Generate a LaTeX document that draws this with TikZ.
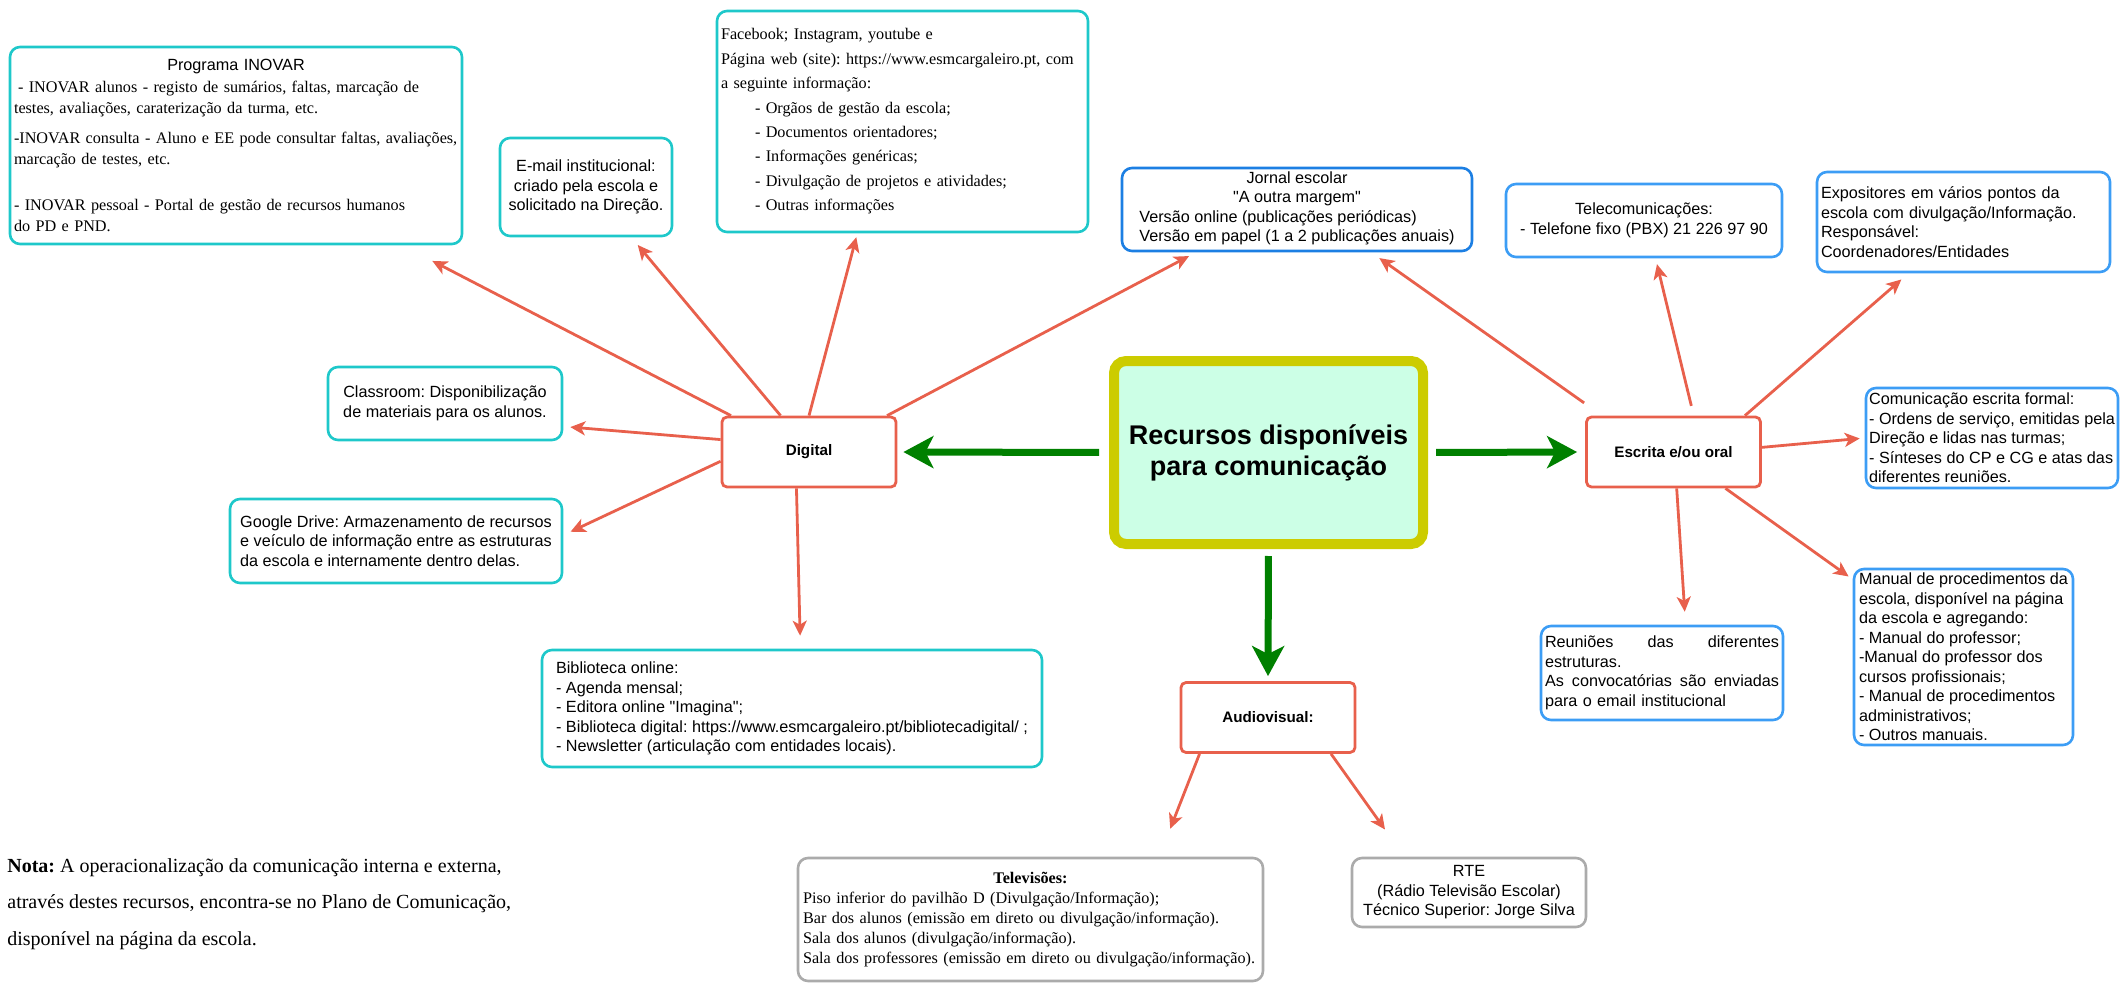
\documentclass[tikz,border=0pt]{standalone}
\usepackage{fontspec}
\setmainfont{Liberation Serif}
\setsansfont{Liberation Sans}[Ligatures=TeXOff]
\usepackage{tikz}
\usetikzlibrary{arrows.meta}
\definecolor{boxcyan}{HTML}{1EC8CA}
\definecolor{boxblue}{HTML}{3C9DF5}
\definecolor{jornalblue}{HTML}{1C7FE3}
\definecolor{nodered}{HTML}{E8604C}
\definecolor{boxgray}{HTML}{ABABAB}
\definecolor{mainyellow}{HTML}{CCCC00}
\definecolor{mainfill}{HTML}{CCFFE6}
\definecolor{arrowgreen}{HTML}{008000}
\newcommand{\boxfont}{\sffamily\fontsize{8.1}{9.75}\selectfont}
\frenchspacing

\begin{document}
\begin{tikzpicture}[x=0.5pt, y=-0.5pt,
  cbox/.style={rectangle, draw=#1, line width=1.3pt, rounded corners=5pt,
               fill=white, inner sep=1.5pt, font=\boxfont},
  cbox/.default=boxcyan,
  hub/.style={rectangle, draw=nodered, line width=1.4pt, rounded corners=2.5pt,
              fill=white, minimum width=87pt, minimum height=35pt,
              font=\sffamily\bfseries\fontsize{7.6}{9}\selectfont},
  spoke/.style={draw=nodered, line width=1.4pt,
                -{Stealth[length=7.5pt,width=7pt,inset=2pt]}},
  bigarrow/.style={draw=arrowgreen, line width=3.5pt,
                   -{Stealth[length=15pt,width=16pt,inset=4pt]}},
]
  \useasboundingbox (0,0) rectangle (2125,984);

  % Centre
  \node[draw=mainyellow, line width=5pt, fill=mainfill, rounded corners=6pt,
        minimum width=154.5pt, minimum height=91.5pt, align=center,
        font=\sffamily\bfseries\fontsize{13.5}{15.6}\selectfont]
        (main) at (1268.5,452.5) {Recursos disponíveis\\para comunicação};

  \node[hub] (dig) at (809,452) {Digital};
  \node[hub] (esc) at (1673.5,452) {Escrita e/ou oral};
  \node[hub] (audio) at (1268,717.5) {Audiovisual:};

  % Digital
  \node[cbox, text width=222pt, inner xsep=2pt, minimum height=98.5pt, align=left,
        font=\rmfamily\fontsize{8.1}{10.75}\selectfont] (ino) at (236,145.5) {
    \hfill{\boxfont Programa INOVAR}\hfill\mbox{}\\
    \hspace*{2pt}- INOVAR alunos - registo de sumários, faltas, marcação de\\
    testes, avaliações, caraterização da turma, etc.\\[4pt]
    \mbox{-INOVAR consulta - Aluno e EE pode consultar faltas, avaliações,}\\
    marcação de testes, etc.\\[12pt]
    - INOVAR pessoal - Portal de gestão de recursos humanos\\
    do PD e PND.
  };
  \node[cbox, align=center, minimum width=86pt, minimum height=49pt]
        (email) at (586,187) {E-mail institucional:\\criado pela escola e\\solicitado na Direção.};
  \node[cbox, text width=181.5pt, inner xsep=2pt, minimum height=110.5pt, align=left,
        font=\rmfamily\fontsize{8.1}{12.2}\selectfont] (fb) at (902.5,121.5) {
    Facebook; Instagram, youtube e\\
    Página web (site): https://www.esmcargaleiro.pt, com\\
    a seguinte informação:\\
    \hspace*{17pt}- Orgãos de gestão da escola;\\
    \hspace*{17pt}- Documentos orientadores;\\
    \hspace*{17pt}- Informações genéricas;\\
    \hspace*{17pt}- Divulgação de projetos e atividades;\\
    \hspace*{17pt}- Outras informações
  };
  \node[cbox=jornalblue, align=center, minimum width=175pt, minimum height=41.5pt]
        (jornal) at (1297,209.5) {Jornal escolar\\"A outra margem"\\
    \begin{tabular}[t]{@{}l@{}}
      Versão online (publicações periódicas)\\
      Versão em papel (1 a 2 publicações anuais)
    \end{tabular}};
  \node[cbox, align=center, minimum width=117pt, minimum height=36.5pt]
        (class) at (445,403.5) {Classroom: Disponibilização\\de materiais para os alunos.};
  \node[cbox, align=left, minimum width=166pt, minimum height=42pt]
        (gdrive) at (396,541) {Google Drive: Armazenamento de recursos\\
    e veículo de informação entre as estruturas\\
    da escola e internamente dentro delas.};
  \node[cbox, align=left, minimum width=250pt, minimum height=58.5pt]
        (biblio) at (792,708.5) {Biblioteca online:\\
    - Agenda mensal;\\
    - Editora online "Imagina";\\
    - Biblioteca digital: https://www.esmcargaleiro.pt/bibliotecadigital/ ;\\
    - Newsletter (articulação com entidades locais).};

  % Escrita e/ou oral
  \node[cbox=boxblue, align=center, minimum width=138pt, minimum height=36.5pt]
        (tel) at (1644,220.5) {Telecomunicações:\\- Telefone fixo (PBX) 21 226 97 90};
  \node[cbox=boxblue, align=left, text width=142.5pt, inner xsep=2pt, minimum height=50pt]
        (expo) at (1963.5,222) {Expositores em vários pontos da\\
    escola com divulgação/Informação.\\
    Responsável:\\
    Coordenadores/Entidades};
  \node[cbox=boxblue, align=left, minimum width=126pt, minimum height=50pt]
        (comm) at (1992,438) {Comunicação escrita formal:\\
    - Ordens de serviço, emitidas pela\\
    Direção e lidas nas turmas;\\
    - Sínteses do CP e CG e atas das\\
    diferentes reuniões.};
  \node[cbox=boxblue, align=left, text width=117pt, inner xsep=2pt, minimum height=47pt]
        (reun) at (1662,673) {Reuniões\hfill das\hfill diferentes\\
    estruturas.\\
    As\hfill convocatórias\hfill são\hfill enviadas\\
    para o email institucional};
  \node[cbox=boxblue, align=left, inner sep=1pt, minimum width=109.5pt, minimum height=88pt]
        (manual) at (1963.5,657) {Manual de procedimentos da\\
    escola, disponível na página\\
    da escola e agregando:\\
    - Manual do professor;\\
    -Manual do professor dos\\
    cursos profissionais;\\
    - Manual de procedimentos\\
    administrativos;\\
    - Outros manuais.};

  % Audiovisual
  \node[cbox=boxgray, text width=227.5pt, inner xsep=2.5pt, minimum height=61.5pt, align=left,
        font=\rmfamily\fontsize{8.1}{10}\selectfont] (tv) at (1030.5,919.5) {
    \hfill\textbf{Televisões:}\hfill\mbox{}\\
    Piso inferior do pavilhão D (Divulgação/Informação);\\
    Bar dos alunos (emissão em direto ou divulgação/informação).\\
    Sala dos alunos (divulgação/informação).\\
    Sala dos professores (emissão em direto ou divulgação/informação).
  };
  \node[cbox=boxgray, align=center, minimum width=117pt, minimum height=34.5pt]
        (rte) at (1469,892.5) {RTE\\(Rádio Televisão Escolar)\\Técnico Superior: Jorge Silva};

  % Nota
  \node[anchor=west, align=left, inner sep=0pt,
        font=\rmfamily\fontsize{10}{18.3}\selectfont] (nota) at (7,904) {
    \textbf{Nota:} A operacionalização da comunicação interna e externa,\\
    através destes recursos, encontra-se no Plano de Comunicação,\\
    disponível na página da escola.};

  % green arrows
  \draw[bigarrow, shorten <=5pt, shorten >=3pt] (main.west) -- (dig.east);
  \draw[bigarrow, shorten <=4pt, shorten >=4pt] (main.east) -- (esc.west);
  \draw[bigarrow, shorten <=3.5pt, shorten >=2.5pt] (main.south) -- (audio.north);

  % Digital spokes
  \draw[spoke, shorten >=17pt] (dig.155.6) -- (ino.-31);
  \draw[spoke, shorten >=5pt] (dig.128.7) -- (email.-48);
  \draw[spoke, shorten >=2pt] (dig.90) -- (fb.248.5);
  \draw[spoke, shorten >=4pt] (dig.25.9) -- (jornal.203.4);
  \draw[spoke, shorten >=3.5pt] (dig.172) -- (class.-11.6);
  \draw[spoke, shorten >=4pt] (dig.186.6) -- (gdrive.2.4);
  \draw[spoke, shorten >=6.5pt] (dig.251) -- (biblio.82);

  % Escrita spokes
  \draw[spoke, shorten <=11pt, shorten >=5pt] (esc.153) -- (jornal.-30.1);
  \draw[spoke, shorten <=5pt, shorten >=3pt] (esc.61.6) -- (tel.-73.8);
  \draw[spoke, shorten >=4.7pt] (esc.27.4) -- (expo.223.6);
  \draw[spoke, shorten >=2.5pt] (esc.3.3) -- (comm.180.7);
  \draw[spoke, shorten >=6.5pt] (esc.-85.9) -- (reun.64.9);
  \draw[spoke, shorten >=2.5pt] (esc.-35.5) -- (manual.145.6);

  % Audiovisual spokes
  \draw[spoke, shorten >=15pt] (audio.208.7) -- (tv.26.2);
  \draw[spoke, shorten >=16.7pt] (audio.-30.3) -- (rte.151.7);
\end{tikzpicture}
\end{document}
